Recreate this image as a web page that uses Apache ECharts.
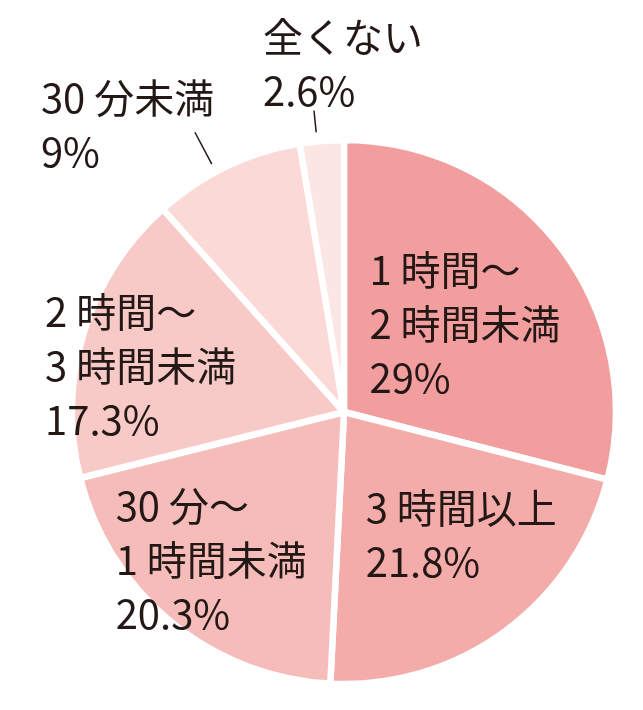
<!DOCTYPE html>
<html>
<head>
<meta charset="utf-8">
<title>pie</title>
<script src="https://cdn.jsdelivr.net/npm/echarts@6/dist/echarts.min.js"></script>
<style>
  html, body { margin: 0; padding: 0; background: #fff; }
  #chart { width: 643px; height: 710px; }
</style>
</head>
<body>
<div id="chart"></div>
<script>
// slices, clockwise from 12 o'clock
var categories = ['1 時間〜\n2 時間未満', '3 時間以上', '30 分〜\n1 時間未満', '2 時間〜\n3 時間未満', '30 分未満', '全くない'];
var shares = [29, 21.8, 20.3, 17.3, 9, 2.6];

var sliceColors = ['#F29E9E', '#F4ACAA', '#F6BCB9', '#F8CAC7', '#FAD9D7', '#FCE6E4'];

// pie geometry (px)
var cx = 344, cy = 412, R = 272;
// top-left of each label block, relative to its anchor point
var labelShift = [[-82, -86], [-59, -41], [-142, -38], [-169, -87], [-154, -61], [-51, -101]];
// leader line [start, end beyond rim, angle tweak in degrees], outside labels only
var leader = [null, null, null, null, [9, 45, -2.5], [9, 31, -1]];

var total = shares.reduce(function (a, b) { return a + b; }, 0);
var midAngle = [];
var acc = 0;
for (var i = 0; i < shares.length; i++) {
    midAngle.push((acc + shares[i] / 2) / total * 2 * Math.PI);
    acc += shares[i];
}

function polar(i, d, tweak) {
    var a = midAngle[i] + (tweak || 0) * Math.PI / 180;
    return [cx + d * Math.sin(a), cy - d * Math.cos(a)];
}

var pieData = categories.map(function (name, i) {
    var item = { name: name, value: shares[i], itemStyle: { color: sliceColors[i] } };
    if (leader[i]) {
        item.label = { position: 'outside' };
        item.labelLine = { show: true };
    }
    return item;
});

var chart = echarts.init(document.getElementById('chart'));
chart.setOption({
    animation: false,
    series: [{
        type: 'pie',
        center: [cx, cy],
        radius: R,
        startAngle: 90,
        clockwise: true,
        avoidLabelOverlap: false,
        emphasis: { disabled: true },
        itemStyle: { borderColor: '#fff', borderWidth: 6.5 },
        label: {
            show: true,
            position: 'inside',
            color: '#231815',
            fontFamily: "'Noto Sans CJK JP', sans-serif",
            fontSize: 40,
            lineHeight: 54,
            formatter: function (p) { return p.name + '\n' + p.value + '%'; }
        },
        labelLine: { show: false, lineStyle: { color: '#231815', width: 1.5 } },
        labelLayout: function (p) {
            var i = p.dataIndex, s = labelShift[i], L = leader[i];
            var base = L ? polar(i, R + L[1], L[2]) : polar(i, R / 2);
            var out = { x: base[0] + s[0], y: base[1] + s[1], align: 'left', verticalAlign: 'top' };
            if (L) out.labelLinePoints = [polar(i, R + L[0], L[2]), polar(i, R + L[1], L[2])];
            return out;
        },
        data: pieData
    }]
});
</script>
</body>
</html>
